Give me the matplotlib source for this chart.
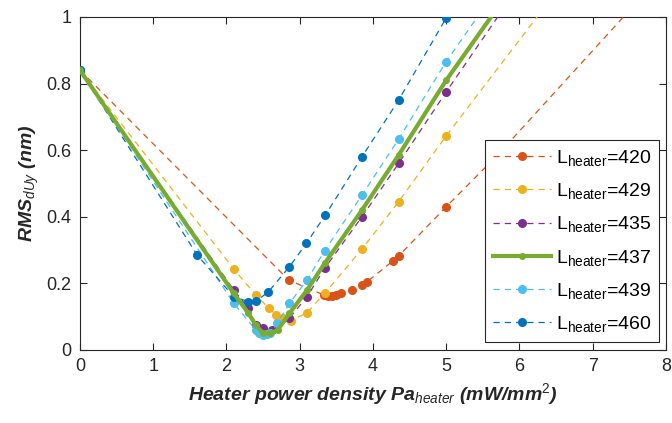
import matplotlib as mpl
mpl.use('Agg')
import matplotlib.pyplot as plt

mpl.rcParams['font.family'] = ['Liberation Sans', 'DejaVu Sans']
mpl.rcParams['mathtext.fontset'] = 'custom'
mpl.rcParams['mathtext.rm'] = 'Liberation Sans'
mpl.rcParams['mathtext.it'] = 'Liberation Sans:italic'
mpl.rcParams['mathtext.bf'] = 'Liberation Sans:bold'

lengths = [420, 429, 435, 437, 439, 460]

x420 = [0, 2.85, 3.33, 3.38, 3.44, 3.5, 3.57, 3.71, 3.85, 3.92, 4.27, 4.35, 5.0, 5.7, 8.0]
y420 = [0.84, 0.21, 0.165, 0.163, 0.163, 0.165, 0.17, 0.18, 0.195, 0.205, 0.267, 0.282, 0.43, 0.585, 1.14]

x429 = [0, 2.1, 2.4, 2.58, 2.68, 2.77, 2.88, 3.1, 3.34, 3.85, 4.35, 5.0, 6.5]
y429 = [0.84, 0.243, 0.165, 0.125, 0.105, 0.096, 0.088, 0.112, 0.17, 0.303, 0.445, 0.643, 1.075]

x435 = [0, 2.1, 2.3, 2.4, 2.5, 2.62, 2.86, 3.1, 3.34, 3.85, 4.35, 5.0, 6.0]
y435 = [0.84, 0.18, 0.125, 0.075, 0.065, 0.06, 0.096, 0.16, 0.245, 0.40, 0.56, 0.775, 1.095]

x437 = [0, 2.1, 2.3, 2.4, 2.5, 2.6, 2.7, 2.86, 3.1, 3.34, 3.85, 4.35, 5.0, 6.0]
y437 = [0.84, 0.17, 0.11, 0.075, 0.05, 0.05, 0.06, 0.11, 0.18, 0.26, 0.42, 0.585, 0.81, 1.12]

x439 = [0, 2.1, 2.4, 2.45, 2.5, 2.55, 2.6, 2.69, 2.86, 3.1, 3.34, 3.85, 4.35, 5.0, 6.0]
y439 = [0.84, 0.14, 0.06, 0.05, 0.045, 0.048, 0.05, 0.08, 0.14, 0.21, 0.298, 0.465, 0.633, 0.866, 1.18]

x460 = [0, 1.6, 2.1, 2.3, 2.4, 2.57, 2.86, 3.09, 3.35, 3.85, 4.35, 5.0]
y460 = [0.84, 0.285, 0.16, 0.145, 0.146, 0.174, 0.25, 0.32, 0.405, 0.58, 0.75, 0.997]

xs = [x420, x429, x435, x437, x439, x460]
ys = [y420, y429, y435, y437, y439, y460]
colors = ['#D95319', '#EDB120', '#7E2F8E', '#77AC30', '#4DBEEE', '#0072BD']

fig = plt.figure(figsize=(6.72, 4.23), dpi=100)
ax = fig.add_axes([0.119, 0.1726, 0.872, 0.7874])

for L, x, y, c in zip(lengths, xs, ys, colors):
    lab = r'L$_{\mathrm{heater}}$=%d' % L
    if L == 437:
        ax.plot(x, y, '-', color=c, lw=3, marker='o', ms=4, label=lab, zorder=5)
    else:
        ax.plot(x, y, '--', color=c, lw=0.9, marker='o', ms=5.5, dashes=(5, 4),
                label=lab, zorder=3)

ax.set_xlim(0, 8)
ax.set_ylim(0, 1)
ax.set_xticks(range(0, 9))
ax.set_yticks([0, 0.2, 0.4, 0.6, 0.8, 1])
ax.set_yticklabels(['0', '0.2', '0.4', '0.6', '0.8', '1'])
ax.tick_params(direction='in', top=True, right=True, length=5, width=0.8,
               labelsize=13, colors='#262626', pad=6)
for s in ax.spines.values():
    s.set_color('#262626')
    s.set_linewidth(0.8)

ax.set_xlabel(r'Heater power density Pa$_{heater}$ (mW/mm$^{2}$)',
              fontsize=14, fontweight='bold', style='italic', color='#262626')
ax.set_ylabel(r'RMS$_{dUy}$ (nm)', fontsize=14, fontweight='bold',
              style='italic', color='#262626')

leg = ax.legend(loc='upper left', bbox_to_anchor=(0.691, 0.63), fontsize=14,
                handlelength=3.0, numpoints=1, fancybox=False, framealpha=1,
                edgecolor='#262626', labelspacing=0.68, borderpad=0.4,
                handletextpad=0.25, borderaxespad=0)
leg.get_frame().set_linewidth(0.8)
leg.set_zorder(10)

fig.savefig('out.png', dpi=100)
